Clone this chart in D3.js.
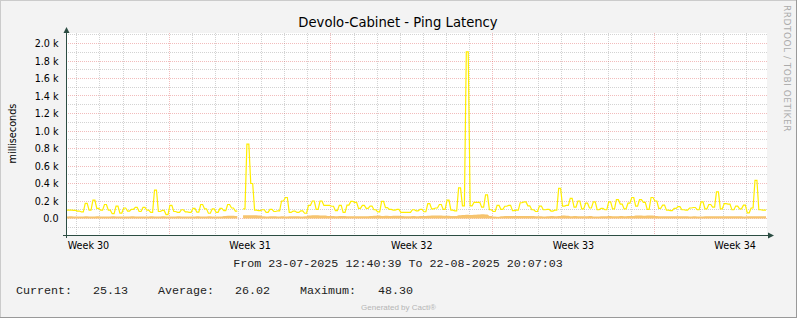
<!DOCTYPE html>
<html><head><meta charset="utf-8">
<script src="https://cdn.jsdelivr.net/npm/d3@7"></script>
<style>html,body{margin:0;padding:0;background:#F3F3F3;overflow:hidden}svg{display:block}</style>
</head><body><svg id="c" width="797" height="318"></svg>
<script>
// ---------- data ----------
const chartTitle = "Devolo-Cabinet - Ping Latency";
const yAxisLabel = "milliseconds";
const startTime = new Date(2025, 6, 23, 12, 40, 39);
const endTime = new Date(2025, 7, 22, 20, 7, 3);
const stepHours = 4;
const yTickValues = [0, 200, 400, 600, 800, 1000, 1200, 1400, 1600, 1800, 2000];
const weekLabels = ["Week 30", "Week 31", "Week 32", "Week 33", "Week 34"];
// yellow series (ms), one value per 4 h, null = no data
const pingMax = [
  96, 96, 92, 85, 75, 172, 96, 210, 115, 96,
  160, 96, 55, 142, 62, 120, 85, 104, 127, 80,
  127, 96, 70, 325, 80, 92, 45, 150, 80, 70,
  100, 75, 70, 115, 72, 160, 110, 60, 110, 70,
  115, 90, 160, 120, 85, null, 110, 850, 400, 96,
  90, 100, 70, 104, 80, 88, 200, 240, 70, 85,
  70, 88, 60, 150, 200, 105, 200, 150, 150, 140,
  90, 150, 70, 153, 195, 185, 115, 150, 115, 142,
  100, 75, 195, 125, 104, 96, 104, 70, 70, 70,
  100, 88, 105, 77, 170, 110, 120, 160, 104, 210,
  95, 88, 350, 145, 1905, 145, 185, 185, 130, 270,
  100, 80, 150, 105, 140, 150, 90, 95, 180, 190,
  145, 100, 80, 142, 100, 104, 85, 95, 344, 142,
  149, 229, 130, 200, 110, 175, 120, 190, 100, 115,
  100, 190, 110, 215, 165, 110, 175, 240, 142, 215,
  185, 105, 240, 200, 115, 153, 96, 90, 115, 135,
  100, 96, 120, 126, 100, 190, 110, 160, 130, 305,
  110, 170, 165, 100, 142, 110, 153, 65, 120, 435,
  100, 96
];
// orange series (ms)
const pingAvg = [
  24, 25, 24, 23, 24, 25, 24, 24, 25, 24,
  23, 24, 25, 24, 24, 23, 24, 25, 24, 24,
  23, 24, 25, 24, 24, 25, 24, 23, 24, 25,
  24, 24, 23, 24, 25, 24, 24, 25, 24, 23,
  24, 30, 32, 31, 30, null, 36, 38, 37, 36,
  34, 25, 24, 25, 26, 24, 25, 24, 25, 26,
  25, 24, 26, 34, 36, 38, 35, 33, 30, 28,
  27, 30, 28, 26, 27, 26, 25, 27, 26, 28,
  32, 33, 30, 31, 28, 32, 31, 30, 27, 26,
  28, 27, 29, 30, 31, 34, 33, 35, 32, 31,
  30, 30, 36, 40, 42, 41, 44, 45, 48, 46,
  30, 22, 20, 27, 28, 29, 28, 30, 29, 28,
  29, 28, 27, 26, 22, 27, 28, 27, 29, 33,
  32, 27, 28, 27, 26, 27, 28, 24, 22, 26,
  27, 28, 27, 26, 28, 27, 28, 29, 35, 34,
  32, 34, 33, 30, 27, 26, 26, 25, 27, 26,
  25, 26, 24, 25, 23, 22, 25, 26, 25, 26,
  27, 25, 26, 25, 26, 25, 24, 26, 25, 26,
  25, 25
];
const legendLabels = ["Current:", "Average:", "Maximum:"];
const legendValues = ["25.13", "26.02", "48.30"];
const periodText = "From 23-07-2025 12:40:39 To 22-08-2025 20:07:03";
const sideText = "RRDTOOL / TOBI OETIKER";
const footerText = "Generated by Cacti\u00AE";

// ---------- layout ----------
const W = 797, H = 318;
const L = 66, R = 766, T = 33, B = 236;
const svg = d3.select("#c");
const sans = "'DejaVu Sans', Verdana, sans-serif";
const mono = "'Courier New', 'Liberation Mono', monospace";
const snap = v => Math.floor(v) + 0.5;

svg.append("rect").attr("width", W).attr("height", H).attr("fill", "#F3F3F3");
svg.append("line").attr("x1", 0).attr("x2", W).attr("y1", 0.5).attr("y2", 0.5).attr("stroke", "#CBCBCB");
svg.append("line").attr("x1", 0.5).attr("x2", 0.5).attr("y1", 0).attr("y2", H).attr("stroke", "#CBCBCB");
svg.append("line").attr("x1", 0).attr("x2", W).attr("y1", H - 0.5).attr("y2", H - 0.5).attr("stroke", "#999999");
svg.append("line").attr("x1", W - 0.5).attr("x2", W - 0.5).attr("y1", 0).attr("y2", H).attr("stroke", "#999999");

const x = d3.scaleTime().domain([startTime, endTime]).range([L, R]);
const y = d3.scaleLinear().domain([-200, 2120]).range([B, T]);

svg.append("rect").attr("x", L).attr("y", T).attr("width", R - L + 1).attr("height", B - T).attr("fill", "#FFFFFF");

const grid = svg.append("g").attr("shape-rendering", "crispEdges");
const minorCol = "rgba(150,150,150,0.42)", majorCol = "rgba(222,79,79,0.38)";
// vertical minor: days
const days = d3.timeDay.range(d3.timeDay.ceil(startTime), endTime).filter(d => d.getDay() !== 1);
grid.selectAll(".vd").data(days).join("line")
  .attr("x1", d => snap(x(d))).attr("x2", d => snap(x(d)))
  .attr("y1", T).attr("y2", B).attr("stroke", minorCol).attr("stroke-dasharray", "1,1");
// horizontal minor
const yMinor = d3.range(-100, 2120, 100).filter(v => v % 200 !== 0);
grid.selectAll(".hm").data(yMinor).join("line")
  .attr("x1", L).attr("x2", R + 1).attr("y1", d => snap(y(d))).attr("y2", d => snap(y(d)))
  .attr("stroke", minorCol).attr("stroke-dasharray", "1,1");
// major horizontal
grid.selectAll(".hM").data(yTickValues).join("line")
  .attr("x1", L).attr("x2", R + 1).attr("y1", d => snap(y(d))).attr("y2", d => snap(y(d)))
  .attr("stroke", majorCol).attr("stroke-dasharray", "1,1");
// major vertical: weeks
const mondays = d3.timeMonday.range(d3.timeMonday.ceil(startTime), endTime);
grid.selectAll(".vM").data(mondays).join("line")
  .attr("x1", d => snap(x(d))).attr("x2", d => snap(x(d)))
  .attr("y1", T).attr("y2", B).attr("stroke", majorCol).attr("stroke-dasharray", "1,1");

// ---------- series ----------
const times = pingMax.map((_, i) => d3.timeHour.offset(startTime, i * stepHours));
// each sample holds its value for half a step, then ramps to the next one
function expand(vals) {
  const out = [];
  vals.forEach((v, i) => {
    out.push({ t: times[i], v });
    const half = d3.timeMinute.offset(times[i], stepHours * 30);
    out.push({ t: half < endTime ? half : endTime, v });
  });
  out.push({ t: endTime, v: vals[vals.length - 1] });
  return out;
}
svg.append("clipPath").attr("id", "clip").append("rect").attr("x", L).attr("y", T - 2).attr("width", R - L + 1).attr("height", B - T + 2);
const plot = svg.append("g").attr("clip-path", "url(#clip)");
const area = d3.area().defined(d => d.v != null)
  .x(d => x(d.t)).y0(y(0)).y1(d => y(d.v));
plot.append("path").datum(expand(pingAvg)).attr("d", area).attr("fill", "#F6C46E");
const line = d3.line().defined(d => d.v != null)
  .x(d => x(d.t)).y(d => y(d.v));
plot.append("path").datum(expand(pingMax)).attr("d", line).attr("fill", "none")
  .attr("stroke", "#FFEE00").attr("stroke-width", 1.2).attr("stroke-linejoin", "miter");

// ---------- axes ----------
const axisCol = "#2C4D43";
svg.append("line").attr("x1", 63).attr("x2", 769).attr("y1", B - 0.5).attr("y2", B - 0.5).attr("stroke", axisCol);
svg.append("path").attr("d", `M768,${B - 3.5}L774,${B - 0.5}L768,${B + 2.5}Z`).attr("fill", axisCol);
svg.append("line").attr("x1", L + 0.5).attr("x2", L + 0.5).attr("y1", B + 2).attr("y2", T - 1).attr("stroke", axisCol);
svg.append("path").attr("d", `M${L - 2.5},${T}L${L + 0.5},${T - 6}L${L + 3.5},${T}Z`).attr("fill", axisCol);

// y tick labels
svg.selectAll(".yl").data(yTickValues).join("text")
  .attr("x", 58.5).attr("y", d => y(d) + 3.6).attr("text-anchor", "end")
  .attr("font-family", sans).attr("font-size", 9.6).attr("fill", "#000")
  .text(d => d === 0 ? "0.0" : d3.format(".1f")(d / 1000) + " k");

// week labels (centred mid-week)
const weekStarts = d3.timeMonday.range(d3.timeMonday.floor(startTime), endTime);
svg.selectAll(".wl").data(weekStarts.slice(0, weekLabels.length)).join("text")
  .attr("x", d => x(d3.timeHour.offset(d, 84))).attr("y", 249)
  .attr("text-anchor", "middle").attr("font-family", sans).attr("font-size", 9.6).attr("fill", "#000")
  .text((d, i) => weekLabels[i]);

// title
svg.append("text").attr("x", 398).attr("y", 27).attr("text-anchor", "middle")
  .attr("font-family", sans).attr("font-size", 13.2).attr("fill", "#000").text(chartTitle);
// y axis label
svg.append("text").attr("transform", `translate(15.5,${(T + B) / 2 - 1}) rotate(-90)`)
  .attr("text-anchor", "middle").attr("font-family", sans).attr("font-size", 9.7).attr("fill", "#000")
  .text(yAxisLabel);
// side text
svg.append("text").attr("transform", "translate(784,5) rotate(90)")
  .attr("text-anchor", "start").attr("font-family", sans).attr("font-size", 9).attr("letter-spacing", 0.5)
  .attr("fill", "#ABABAB").text(sideText);
// period
svg.append("text").attr("x", 398).attr("y", 267).attr("text-anchor", "middle")
  .attr("font-family", mono).attr("font-size", 11.7).attr("fill", "#222").text(periodText);
// legend
const legX = [16, 158, 300], valX = [93, 235, 378];
legendLabels.forEach((l, i) => {
  svg.append("text").attr("x", legX[i]).attr("y", 294).attr("font-family", mono).attr("font-size", 11.7).attr("fill", "#222").text(l);
  svg.append("text").attr("x", valX[i]).attr("y", 294).attr("font-family", mono).attr("font-size", 11.7).attr("fill", "#222").text(legendValues[i]);
});
// footer
svg.append("text").attr("x", 398.5).attr("y", 310).attr("text-anchor", "middle")
  .attr("font-family", "'Liberation Sans', Arial, sans-serif").attr("font-size", 8).attr("fill", "#B5B5B5")
  .text(footerText);
</script>
</body></html>
